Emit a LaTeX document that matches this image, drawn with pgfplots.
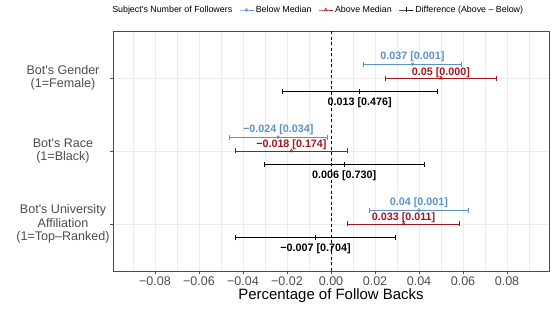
\documentclass[border=0pt]{standalone}
\usepackage{fontspec}
\setmainfont{Liberation Sans}
\usepackage{pgfplots}
\pgfplotsset{compat=1.18}
\definecolor{cblue}{RGB}{91,144,200}
\definecolor{cred}{RGB}{165,22,28}
\definecolor{txtgray}{RGB}{77,77,77}
\definecolor{gridgray}{RGB}{235,235,235}
\begin{document}
\begin{tikzpicture}
\path[use as bounding box] (0,0) rectangle (554bp,310bp);
\begin{axis}[
  at={(113bp,39bp)}, anchor=south west,
  scale only axis, width=436bp, height=240bp,
  xmin=-0.0991, xmax=0.0991, ymin=0.356, ymax=3.644,
  scaled x ticks=false,
  axis line style={black!70, line width=0.6bp},
  xtick={-0.08,-0.06,-0.04,-0.02,0,0.02,0.04,0.06,0.08},
  xticklabels={−0.08,−0.06,−0.04,−0.02,0.00,0.02,0.04,0.06,0.08},
  minor xtick={-0.09,-0.07,-0.05,-0.03,-0.01,0.01,0.03,0.05,0.07,0.09},
  ytick={1,2,3},
  yticklabels={{Bot\textquotesingle s University\\Affiliation\\(1=Top–Ranked)},{Bot\textquotesingle s Race\\(1=Black)},{Bot\textquotesingle s Gender\\(1=Female)}},
  xtick pos=bottom, ytick pos=left,
  tick align=outside, major tick length=3bp, minor tick length=0pt,
  tick style={black!70, line width=0.5bp},
  grid=both,
  major grid style={gridgray, line width=0.7bp},
  minor grid style={gridgray, line width=0.4bp},
  xticklabel style={font=\fontsize{12.6}{14}\selectfont, text=txtgray, yshift=1bp},
  yticklabel style={font=\fontsize{12.6}{13.4}\selectfont, text=txtgray, align=center, anchor=center, xshift=-47bp},
  xlabel={Percentage of Follow Backs},
  xlabel style={font=\fontsize{15}{17}\selectfont, yshift=4bp},
  legend style={draw=none, fill=none, font=\fontsize{8.9}{10}\selectfont, legend columns=-1,
    at={(0.4855,1.0875)}, anchor=center,
    /tikz/every even column/.append style={column sep=5bp}},
  legend image code/.code={\draw[mark repeat=2,mark phase=2,#1] plot coordinates {(0bp,0bp)(7bp,0bp)(14bp,0bp)};},
]
\addlegendimage{empty legend}
\addlegendentry{\hspace{-14bp}Subject\textquotesingle s Number of Followers}
\addlegendimage{cblue, line width=0.6bp, mark=o, mark size=1.4bp}
\addlegendentry{Below Median}
\addlegendimage{cred, line width=0.6bp, mark=triangle, mark size=1.8bp}
\addlegendentry{Above Median}
\addlegendimage{black, line width=0.6bp, mark=|, mark size=2.5bp}
\addlegendentry{Difference (Above – Below)}

\addplot[black, dashed, dash pattern=on 3bp off 2.5bp, line width=0.8bp, forget plot] coordinates {(0,0.356) (0,3.644)};

% Below median (blue)
\addplot[cblue, only marks, mark=o, mark size=1.4bp, line width=0.7bp, forget plot,
  error bars/.cd, x dir=both, x explicit, error mark=|, error mark options={mark size=2.5bp, line width=0.7bp, cblue},
  error bar style={line width=0.8bp, cblue}]
  coordinates {(0.037,3.19) +- (0.0223,0) (-0.024,2.19) +- (0.0222,0) (0.040,1.19) +- (0.0225,0)};
% Above median (red)
\addplot[cred, only marks, mark=triangle, mark size=1.8bp, line width=0.7bp, forget plot,
  error bars/.cd, x dir=both, x explicit, error mark=|, error mark options={mark size=2.5bp, line width=0.7bp, cred},
  error bar style={line width=0.8bp, cred}]
  coordinates {(0.050,3.0) +- (0.0252,0) (-0.018,2.0) +- (0.0256,0) (0.033,1.0) +- (0.0255,0)};
% Difference (black)
\addplot[black, only marks, mark=|, mark size=2.5bp, line width=0.7bp, forget plot,
  error bars/.cd, x dir=both, x explicit, error mark=|, error mark options={mark size=2.5bp, line width=0.7bp, black},
  error bar style={line width=0.8bp, black}]
  coordinates {(0.013,2.81) +- (0.0353,0) (0.006,1.81) +- (0.0364,0) (-0.007,0.81) +- (0.0364,0)};

\begin{scope}[every node/.style={font=\fontsize{10.8}{12}\selectfont\bfseries, inner sep=0pt}]
\node[text=cblue, anchor=base] at (axis cs:0.037,3.19) [yshift=5bp] {0.037 [0.001]};
\node[text=cred, anchor=base] at (axis cs:0.050,3.0) [yshift=3bp] {0.05 [0.000]};
\node[text=black, anchor=base] at (axis cs:0.013,2.81) [yshift=-14bp] {0.013 [0.476]};
\node[text=cblue, anchor=base] at (axis cs:-0.024,2.19) [yshift=5bp] {−0.024 [0.034]};
\node[text=cred, anchor=base] at (axis cs:-0.018,2.0) [yshift=3bp] {−0.018 [0.174]};
\node[text=black, anchor=base] at (axis cs:0.006,1.81) [yshift=-14bp] {0.006 [0.730]};
\node[text=cblue, anchor=base] at (axis cs:0.040,1.19) [yshift=5bp] {0.04 [0.001]};
\node[text=cred, anchor=base] at (axis cs:0.033,1.0) [yshift=3bp] {0.033 [0.011]};
\node[text=black, anchor=base] at (axis cs:-0.007,0.81) [yshift=-14bp] {−0.007 [0.704]};
\end{scope}
\end{axis}
\end{tikzpicture}
\end{document}
